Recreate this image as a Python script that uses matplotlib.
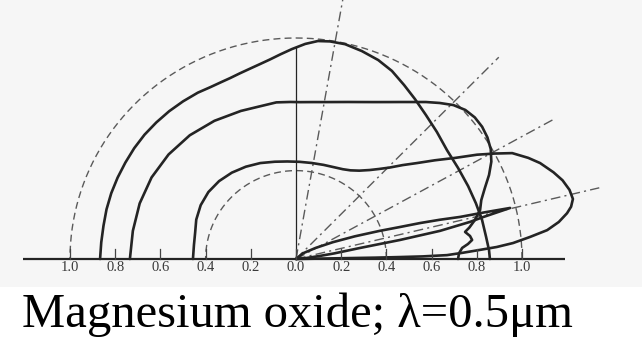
import numpy as np
import matplotlib
matplotlib.use("Agg")
import matplotlib.pyplot as plt

# Directional distributions: angle in degrees from the surface, radial value
curve_a_deg = [180, 175, 170, 165, 160, 155, 150, 145, 140, 135, 130, 125, 120, 116, 112.5,
               109.6, 106.5, 103.3, 100.3, 97.3, 94.2, 91.1, 87.6, 84.4, 81.3, 77.4, 72.8, 68,
               63.5, 58.7, 54, 48.6, 42.7, 36.4, 29.9, 23.4, 17.6, 12.1, 6.8, 2.7, 0]
curve_a_r = [0.867, 0.865, 0.865, 0.868, 0.870, 0.871, 0.872, 0.874, 0.875, 0.874, 0.873, 0.871,
             0.869, 0.865, 0.866, 0.869, 0.876, 0.885, 0.896, 0.910, 0.929, 0.950, 0.974, 0.991,
             0.996, 0.996, 0.985, 0.971, 0.951, 0.921, 0.895, 0.869, 0.848, 0.830, 0.827, 0.830,
             0.835, 0.842, 0.847, 0.855, 0.858]

curve_b_deg = [180, 170, 160, 150, 140, 130, 120, 110, 104, 97, 92, 88.5, 84, 80, 76, 72, 68,
               64, 60, 57, 54, 51, 48, 45, 42, 39, 36, 33, 30, 27, 24, 21, 18, 15.2, 12.5, 10.5,
               9.3, 7.7, 6.3, 5.1, 3.9, 2.1, 0]
curve_b_r = [0.735, 0.733, 0.736, 0.738, 0.736, 0.731, 0.722, 0.713, 0.709, 0.714, 0.711, 0.710,
             0.714, 0.721, 0.732, 0.747, 0.766, 0.790, 0.820, 0.847, 0.878, 0.914, 0.950, 0.985,
             1.008, 1.018, 1.018, 1.010, 0.995, 0.970, 0.935, 0.895, 0.862, 0.844, 0.810, 0.780,
             0.758, 0.777, 0.784, 0.764, 0.737, 0.722, 0.717]

curve_c_deg = [180, 172, 165, 158, 150, 142, 134, 126, 118, 110, 102, 95, 88, 81, 74, 68, 63,
               59, 55, 51, 48, 45, 42, 39, 36, 33, 30.5, 28.5, 26.6, 24, 21.9, 19, 16.8, 14.5,
               12.5, 11, 9.8, 8.2, 6.7, 5.5, 4.3, 3.5, 2.9, 2.2, 1.5, 1.2, 1.1, 1.0, 1.0, 1.0, 0]
curve_c_r = [0.456, 0.456, 0.462, 0.476, 0.487, 0.492, 0.490, 0.483, 0.473, 0.462, 0.450, 0.443,
             0.440, 0.440, 0.443, 0.448, 0.456, 0.468, 0.488, 0.518, 0.548, 0.585, 0.635, 0.690,
             0.760, 0.840, 0.930, 1.000, 1.070, 1.125, 1.164, 1.205, 1.232, 1.250, 1.255, 1.240,
             1.217, 1.175, 1.119, 1.040, 0.963, 0.890, 0.815, 0.740, 0.668, 0.560, 0.460, 0.350,
             0.239, 0.120, 0.0]

curve_d_deg = [0, 40, 30, 25, 21.5, 19, 17.5, 16.5, 15.6, 14.7, 14.2, 13.7, 12.9, 12.3, 11.3,
               10.6, 10, 8.5, 7.5, 5, 0]
curve_d_r = [0.0, 0.04, 0.10, 0.18, 0.28, 0.39, 0.48, 0.573, 0.66, 0.75, 0.86, 0.975, 0.849,
             0.788, 0.650, 0.468, 0.287, 0.170, 0.107, 0.040, 0.0]

# Incidence directions (dash-dot rays) and their drawn lengths
ray_deg = [80, 45.5, 29, 13.5]
ray_len = [1.25, 1.28, 1.30, 1.38]

# Reference circles
circle_r = [1.0, 0.4]

# Scale along the surface
tick_vals = [-1.0, -0.8, -0.6, -0.4, -0.2, 0.0, 0.2, 0.4, 0.6, 0.8, 1.0]
tick_text = ["1.0", "0.8", "0.6", "0.4", "0.2", "0.0", "0.2", "0.4", "0.6", "0.8", "1.0"]

caption = "Magnesium oxide; \u03bb=0.5\u03bcm"


def to_xy(deg, r):
    a = np.radians(np.asarray(deg, dtype=float))
    r = np.asarray(r, dtype=float)
    return r * np.cos(a), r * np.sin(a)


W, H = 642, 337
fig = plt.figure(figsize=(W / 100, H / 100), dpi=100)
fig.patch.set_facecolor("white")

ax_h = 287 / H
ax = fig.add_axes([0, 1 - ax_h, 1, ax_h])
ax.set_xlim(-296 / 226, 346 / 226)
ax.set_ylim((259 - 287) / 221, 259 / 221)
ax.set_axis_off()
bg = plt.Rectangle((0, 0), 1, 1, transform=ax.transAxes, color="#f6f6f6", zorder=0)
ax.add_patch(bg)

ink = "#242424"
dash_ink = "#5a5a5a"

# reference circles (dashed)
th = np.linspace(0, 180, 361)
for rc in circle_r:
    x, y = to_xy(th, np.full_like(th, rc))
    ax.plot(x, y, color=dash_ink, lw=1.0, dashes=(5, 3), zorder=2)

# rays (dash-dot)
for d, L in zip(ray_deg, ray_len):
    x, y = to_xy([d, d], [0, L])
    ax.plot(x, y, color=dash_ink, lw=1.0, dashes=(7, 3, 1.5, 3), zorder=2)

# normal line
ax.plot([0, 0], [0, 0.96], color=ink, lw=0.9, zorder=3)

# distribution curves
for deg, r in [(curve_a_deg, curve_a_r), (curve_b_deg, curve_b_r),
               (curve_c_deg, curve_c_r), (curve_d_deg, curve_d_r)]:
    x, y = to_xy(deg, r)
    ax.plot(x, y, color=ink, lw=1.9, solid_joinstyle="round", solid_capstyle="round", zorder=4)

# surface line with scale ticks
ax.plot([-1.208, 1.19], [0, 0], color=ink, lw=1.6, zorder=5, solid_capstyle="butt")
for v, t in zip(tick_vals, tick_text):
    ax.plot([v, v], [0, 0.045], color="#444444", lw=0.9, zorder=5)
    ax.text(v, -0.037, t, ha="center", va="center", fontsize=10.5,
            family="Liberation Serif", color="#3a3a3a", zorder=6)

fig.text(22 / W, (H - 327) / H, caption, ha="left", va="baseline",
         fontsize=35, family=["Liberation Serif", "DejaVu Serif"], color="black")

fig.savefig("out.png", dpi=100)
